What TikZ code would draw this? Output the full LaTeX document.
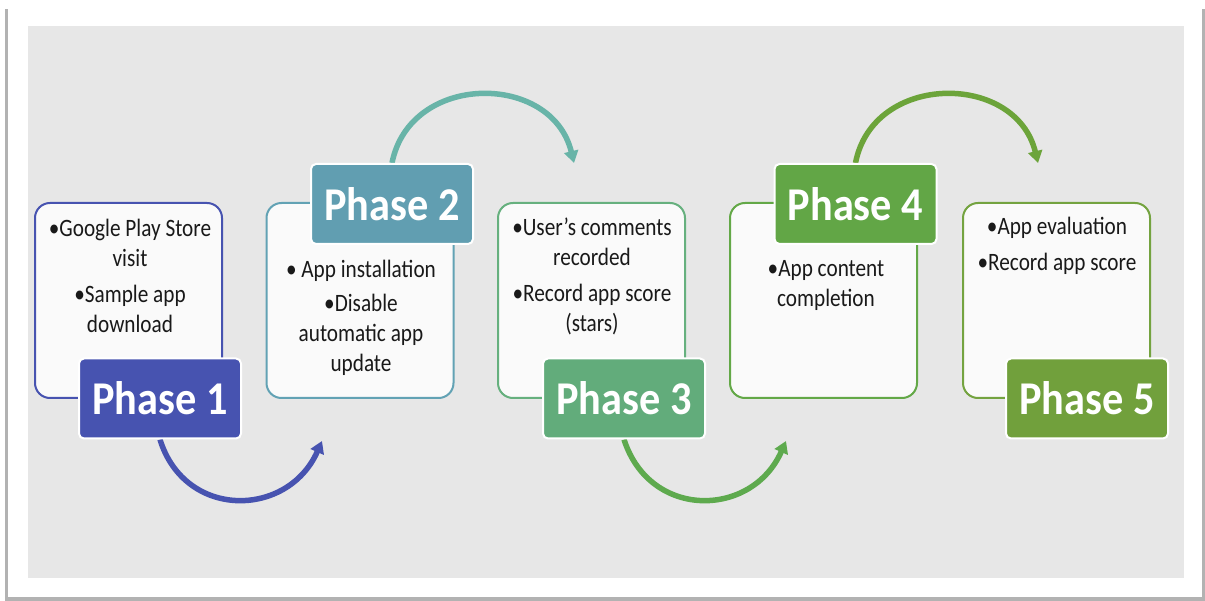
\documentclass[tikz,border=0pt]{standalone}
\usepackage{fontspec}
\setmainfont{Carlito}
\newfontfamily\bodyfont[FakeStretch=0.85]{Carlito}
\newfontfamily\headfont[FakeStretch=0.9]{Carlito}
\usetikzlibrary{arrows.meta}
\definecolor{bgc}{HTML}{E7E7E7}
\definecolor{boxfill}{HTML}{FAFAFA}
\definecolor{cA}{HTML}{4753B0}
\definecolor{cBf}{HTML}{619EB1}
\definecolor{cBo}{HTML}{62A2B4}
\definecolor{cBa}{HTML}{68B4A8}
\definecolor{cCf}{HTML}{62AC7B}
\definecolor{cCo}{HTML}{66B07E}
\definecolor{cCa}{HTML}{5EAA4E}
\definecolor{cDf}{HTML}{62A646}
\definecolor{cDo}{HTML}{63A847}
\definecolor{cDa}{HTML}{6CA43A}
\definecolor{cEf}{HTML}{71A03C}
\definecolor{cEo}{HTML}{74A340}
\pgfdeclarelayer{back}
\pgfsetlayers{back,main}
\tikzset{
  bigbox/.style={draw=#1, fill=boxfill, line width=2pt, rounded corners=15pt,
    minimum width=187pt, minimum height=195pt, inner sep=0pt},
  phasebox/.style={fill=#1, draw=white, line width=2pt, rounded corners=5pt,
    minimum width=162pt, minimum height=80pt, inner sep=0pt, text=white,
    font=\headfont\fontsize{47}{47}\selectfont\bfseries},
  bullets/.style={align=center, inner sep=0pt, text=black!90,
    font=\bodyfont\fontsize{25}{30}\selectfont},
  flow/.style={draw=#1, line width=5.5pt, -{Triangle[length=12pt,width=14pt]}}
}
\begin{document}
\begin{tikzpicture}[x=1pt,y=-1pt]
\useasboundingbox (0,0) rectangle (1205,601);
\begin{pgfonlayer}{back}
\fill[white] (0,0) rectangle (1205,601);
\fill[black!30] (5,9) rectangle (1205,601);
\fill[white] (8,7) rectangle (1202,597);
\fill[bgc] (28,26) rectangle (1184,578);
\end{pgfonlayer}

% content boxes
\node[bigbox=cA]  (b1) at (128.5,300.5) {};
\node[bigbox=cBo] (b2) at (360,300.5) {};
\node[bigbox=cCo] (b3) at (591.5,300.5) {};
\node[bigbox=cDo] (b4) at (823.5,300.5) {};
\node[bigbox=cEo] (b5) at (1056.5,300.5) {};

% texts
\node[bullets] (t1) at (130,276) {•Google Play Store\\visit\\[6pt]•Sample app\\download};
\node[bullets] (t2) at (361,318) {• App installation\\[4pt]•Disable\\automatic app\\update};
\node[bullets] (t3) at (592,276) {•User’s comments\\recorded\\[6pt]•Record app score\\(stars)};
\node[bullets] (t4) at (826,285) {•App content\\completion};
\node[bullets] (t5) at (1057,246) {•App evaluation\\[6pt]•Record app score};

% phase labels
\node[phasebox=cA]  (p1) at (160,398.5) {Phase 1};
\node[phasebox=cBf] (p2) at (392,204) {Phase 2};
\node[phasebox=cCf] (p3) at (624,398.5) {Phase 3};
\node[phasebox=cDf] (p4) at (855.5,204) {Phase 4};
\node[phasebox=cEf] (p5) at (1087,398.5) {Phase 5};

% arrow end points
\coordinate (e1) at (322,441);
\coordinate (e2) at (574,163);
\coordinate (e3) at (786,441);
\coordinate (e4) at (1038,163);

\begin{pgfonlayer}{back}
\draw[flow=cA]  (p1.south) .. controls (185,520) and (288,518) .. (e1);
\draw[flow=cBa] (p2.north) .. controls (410,72) and (552,72) .. (e2);
\draw[flow=cCa] (p3.south) .. controls (650,520) and (752,518) .. (e3);
\draw[flow=cDa] (p4.north) .. controls (873,72) and (1016,72) .. (e4);
\end{pgfonlayer}
\end{tikzpicture}
\end{document}
